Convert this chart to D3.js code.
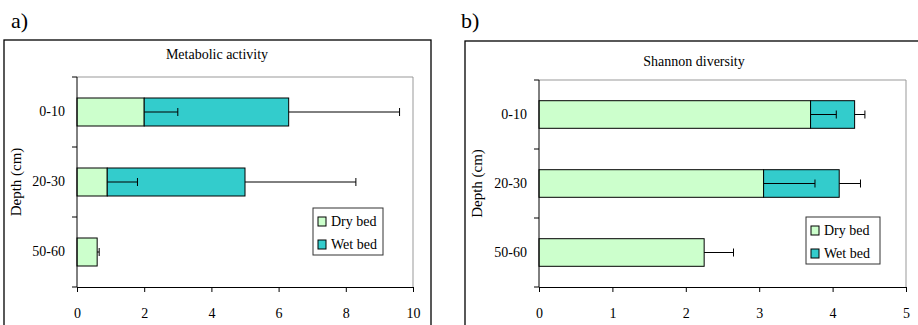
<!DOCTYPE html>
<html><head><meta charset="utf-8">
<script src="https://cdn.jsdelivr.net/npm/d3@7"></script>
<style>
html,body{margin:0;padding:0;background:#fff;}
svg{display:block;font-family:"Liberation Serif","Times New Roman",serif;}
</style></head>
<body><svg id="c" width="918" height="325"></svg>
<script>
const categories = ["0-10", "20-30", "50-60"];
const seriesNames = ["Dry bed", "Wet bed"];
const metabDry = [2.0, 0.9, 0.6];
const metabWet = [4.3, 4.1, 0];
const metabDryErr = [1.0, 0.9, 0.06];
const metabWetErr = [3.3, 3.3, 0];
const shannonDry = [3.70, 3.06, 2.25];
const shannonWet = [0.60, 1.03, 0];
const shannonDryErr = [0.35, 0.70, 0.40];
const shannonWetErr = [0.14, 0.29, 0];
const metabTicks = [0, 2, 4, 6, 8, 10];
const shannonTicks = [0, 1, 2, 3, 4, 5];

const FONT = '"Liberation Serif","Times New Roman",serif';
const colors = {dry: "#ccffcc", wet: "#33cccc"};
const svg = d3.select("#c");

function panel(o) {
  const g = svg.append("g");
  g.append("rect").attr("x", o.box[0]).attr("y", o.box[1]).attr("width", o.box[2]).attr("height", o.box[3])
    .attr("fill", "none").attr("stroke", "#000").attr("stroke-width", 1.3);
  g.append("text").attr("x", o.letterX).attr("y", 28).attr("font-size", 22).text(o.letter);
  g.append("text").attr("x", o.titleX).attr("y", o.titleY).attr("text-anchor", "middle")
    .attr("font-size", 14).text(o.title);

  const x = d3.scaleLinear().domain([0, o.max]).range([o.left, o.right]);
  const y = d3.scaleBand().domain(categories).range([o.top, o.bottom]).padding(0);
  const bh = y.bandwidth() * 0.4;

  g.append("path").attr("d", `M${o.left},${o.top}H${o.right}V${o.bottom}`)
    .attr("fill", "none").attr("stroke", "#999").attr("stroke-width", 1);

  const rows = categories.map((c, i) => ({c, dry: o.dry[i], wet: o.wet[i], de: o.dryErr[i], we: o.wetErr[i]}));
  const rg = g.selectAll("g.row").data(rows).join("g");
  rg.append("rect").attr("x", x(0)).attr("y", d => y(d.c) + y.bandwidth()/2 - bh/2)
    .attr("width", d => x(d.dry) - x(0)).attr("height", bh)
    .attr("fill", colors.dry).attr("stroke", "#000").attr("stroke-width", 1);
  rg.filter(d => d.wet > 0).append("rect").attr("x", d => x(d.dry)).attr("y", d => y(d.c) + y.bandwidth()/2 - bh/2)
    .attr("width", d => x(d.dry + d.wet) - x(d.dry)).attr("height", bh)
    .attr("fill", colors.wet).attr("stroke", "#000").attr("stroke-width", 1);

  function err(sel, from, len) {
    sel.append("path").attr("d", d => {
      const cy = y(d.c) + y.bandwidth()/2, x0 = x(from(d)), x1 = x(from(d) + len(d));
      return `M${x0},${cy}H${x1}M${x1},${cy-4}V${cy+4}`;
    }).attr("stroke", "#000").attr("stroke-width", 1).attr("fill", "none");
  }
  err(rg, d => d.dry, d => d.de);
  err(rg.filter(d => d.wet > 0), d => d.dry + d.wet, d => d.we);

  const xa = g.append("g").attr("transform", `translate(0,${o.bottom})`)
    .call(d3.axisBottom(x).tickValues(o.ticks).tickFormat(d3.format("d")).tickSize(5).tickSizeOuter(0).tickPadding(16));
  xa.attr("font-family", FONT).attr("font-size", 14);
  xa.selectAll("path,line").attr("stroke", "#000");
  xa.selectAll("text").attr("fill", "#000");

  const ya = g.append("g").attr("transform", `translate(${o.left},0)`)
    .call(d3.axisLeft(y).tickSize(0).tickPadding(12));
  ya.attr("font-family", FONT).attr("font-size", 14);
  ya.select(".domain").attr("d", `M0,${o.top}V${o.bottom}`).attr("stroke", "#000");
  ya.selectAll("text").attr("fill", "#000");
  const bounds = categories.map(c => y(c)).concat([o.bottom]);
  g.selectAll("line.yt").data(bounds).join("line").attr("x1", o.left - 5).attr("x2", o.left)
    .attr("y1", d => d).attr("y2", d => d).attr("stroke", "#000");

  g.append("text").attr("transform", `translate(${o.ylabX},${(o.top+o.bottom)/2}) rotate(-90)`)
    .attr("text-anchor", "middle").attr("font-size", 15).text("Depth (cm)");

  const lg = g.append("g").attr("transform", `translate(${o.leg[0]},${o.leg[1]})`);
  lg.append("rect").attr("width", o.leg[2]).attr("height", 47).attr("fill", "#fff")
    .attr("stroke", "#333").attr("stroke-width", 1);
  seriesNames.forEach((n, i) => {
    lg.append("rect").attr("x", 5).attr("y", 9 + i*23).attr("width", 8).attr("height", 9)
      .attr("fill", i ? colors.wet : colors.dry).attr("stroke", "#000");
    lg.append("text").attr("x", 18).attr("y", 18 + i*23).attr("font-size", 14).text(n);
  });
}

panel({letter: "a)", letterX: 11, title: "Metabolic activity", titleX: 217, titleY: 59,
  box: [4, 40, 427, 300], left: 77, right: 413, top: 77, bottom: 287, max: 10, ticks: metabTicks,
  dry: metabDry, wet: metabWet, dryErr: metabDryErr, wetErr: metabWetErr, ylabX: 21, leg: [313, 208, 70]});
panel({letter: "b)", letterX: 461, title: "Shannon diversity", titleX: 694, titleY: 66,
  box: [465, 41, 470, 300], left: 539, right: 906, top: 80, bottom: 287, max: 5, ticks: shannonTicks,
  dry: shannonDry, wet: shannonWet, dryErr: shannonDryErr, wetErr: shannonWetErr, ylabX: 482, leg: [806, 217, 74]});
</script></body></html>
